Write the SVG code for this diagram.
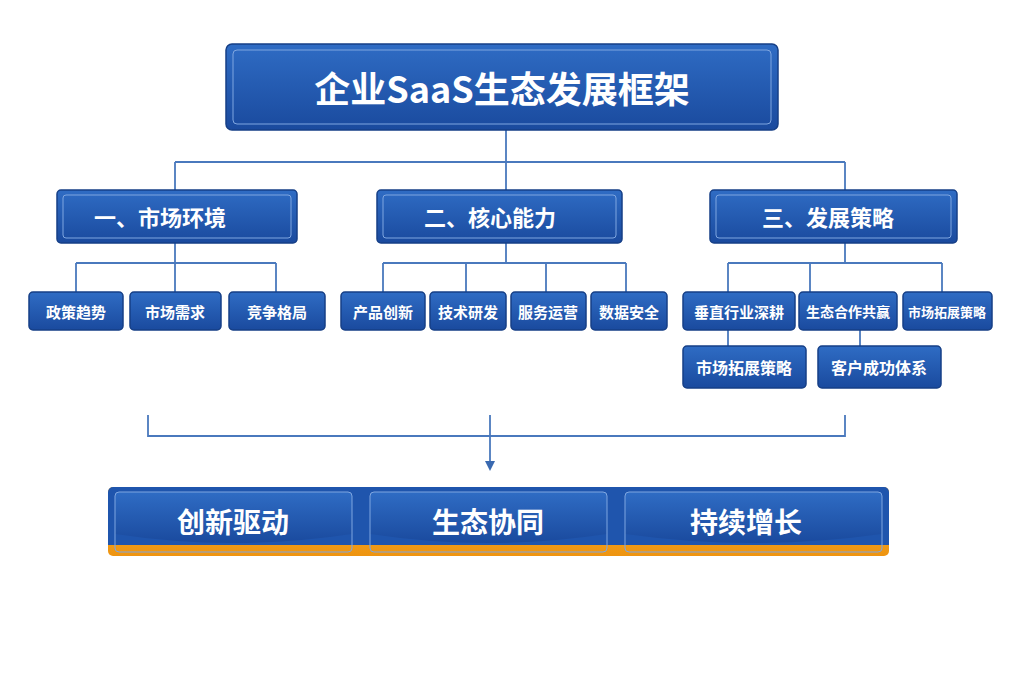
<svg xmlns="http://www.w3.org/2000/svg" width="1024" height="683" viewBox="0 0 1024 683">
<defs>
<linearGradient id="bg" x1="0" y1="0" x2="0" y2="1"><stop offset="0" stop-color="#2f6cc4"/><stop offset="1" stop-color="#1a4a9e"/></linearGradient>
<linearGradient id="og" x1="0" y1="0" x2="0" y2="1"><stop offset="0" stop-color="#f7b232"/><stop offset="1" stop-color="#ee9410"/></linearGradient>
<marker id="ar" markerWidth="10" markerHeight="10" refX="5" refY="5" orient="auto" markerUnits="userSpaceOnUse"><path d="M0,0 L10,5 L0,10 z" fill="#3a69b0"/></marker>
</defs>
<style>
.b{fill:url(#bg);stroke:#163f86;stroke-width:1.5}
.in{fill:none;stroke:#7fa6e0;stroke-width:1}
.t{font-family:"Noto Sans CJK SC","Liberation Sans",sans-serif;fill:#fff;font-weight:bold;text-anchor:middle;dominant-baseline:central}
.c{stroke:#4a79bd;stroke-width:1.8;fill:none}
</style>
<rect width="1024" height="683" fill="#fff"/>
<g id="connectors">
<path class="c" d="M506,130V162M175,162H845M175,162V190M506,162V190M845,162V190"/>
<path class="c" d="M175,243V263M76,263H276M76,263V292M175,263V292M276,263V292"/>
<path class="c" d="M506,243V263M383,263H626M383,263V292M466,263V292M546,263V292M626,263V292"/>
<path class="c" d="M845,243V263M728,263H942M728,263V292M810,263V292M942,263V292M728,330V346M860,330V346"/>
<path class="c" d="M148,415V436H845V415"/>
<path class="c" d="M490,415V466" marker-end="url(#ar)"/>
</g>
<g id="title"><rect class="b" x="226" y="44" width="552" height="86" rx="6"/><rect class="in" x="233" y="50" width="538" height="74" rx="4"/><text class="t" x="502" y="87" font-size="36">企业SaaS生态发展框架</text></g>
<g id="s1"><rect class="b" x="57" y="190" width="240" height="53" rx="4"/><rect class="in" x="63" y="195" width="228" height="43" rx="3"/><text class="t" x="160" y="216" font-size="22">一、市场环境</text></g>
<g id="s2"><rect class="b" x="377" y="190" width="245" height="53" rx="4"/><rect class="in" x="383" y="195" width="233" height="43" rx="3"/><text class="t" x="490" y="216" font-size="22">二、核心能力</text></g>
<g id="s3"><rect class="b" x="710" y="190" width="247" height="53" rx="4"/><rect class="in" x="716" y="195" width="235" height="43" rx="3"/><text class="t" x="828" y="216" font-size="22">三、发展策略</text></g>
<g id="n1"><rect class="b" x="29" y="292" width="94" height="38" rx="4"/><text class="t" x="76" y="311" font-size="15">政策趋势</text></g>
<g id="n2"><rect class="b" x="130" y="292" width="91" height="38" rx="4"/><text class="t" x="175" y="311" font-size="15">市场需求</text></g>
<g id="n3"><rect class="b" x="229" y="292" width="96" height="38" rx="4"/><text class="t" x="277" y="311" font-size="15">竞争格局</text></g>
<g id="n4"><rect class="b" x="341" y="292" width="84" height="38" rx="4"/><text class="t" x="383" y="311" font-size="15">产品创新</text></g>
<g id="n5"><rect class="b" x="430" y="292" width="76" height="38" rx="4"/><text class="t" x="468" y="311" font-size="15">技术研发</text></g>
<g id="n6"><rect class="b" x="511" y="292" width="75" height="38" rx="4"/><text class="t" x="548" y="311" font-size="15">服务运营</text></g>
<g id="n7"><rect class="b" x="591" y="292" width="76" height="38" rx="4"/><text class="t" x="629" y="311" font-size="15">数据安全</text></g>
<g id="n8"><rect class="b" x="683" y="292" width="112" height="38" rx="4"/><text class="t" x="739" y="311" font-size="15">垂直行业深耕</text></g>
<g id="n9"><rect class="b" x="799" y="292" width="98" height="38" rx="4"/><text class="t" x="848" y="311" font-size="14">生态合作共赢</text></g>
<g id="n10"><rect class="b" x="903" y="292" width="89" height="38" rx="4"/><text class="t" x="947" y="311" font-size="13">市场拓展策略</text></g>
<g id="n11"><rect class="b" x="683" y="346" width="123" height="42" rx="4"/><text class="t" x="744" y="367" font-size="16">市场拓展策略</text></g>
<g id="n12"><rect class="b" x="818" y="346" width="123" height="42" rx="4"/><text class="t" x="879" y="367" font-size="16">客户成功体系</text></g>
<g id="bottom">
<rect x="108" y="487" width="781" height="69" rx="5" fill="url(#og)"/>
<path d="M108,492 a5,5 0 0 1 5,-5 H884 a5,5 0 0 1 5,5 V545 H108 z" fill="#1f55ad"/>
<g id="p1"><path d="M115,496 a4,4 0 0 1 4,-4 H348 a4,4 0 0 1 4,4 V534 Q233,552 115,534 z" fill="url(#bg)"/><rect class="in" x="115" y="492" width="237" height="60" rx="4" stroke="#ffd27a"/><text class="t" x="233" y="521" font-size="28">创新驱动</text></g>
<g id="p2"><path d="M370,496 a4,4 0 0 1 4,-4 H603 a4,4 0 0 1 4,4 V534 Q488,552 370,534 z" fill="url(#bg)"/><rect class="in" x="370" y="492" width="237" height="60" rx="4" stroke="#ffd27a"/><text class="t" x="488" y="521" font-size="28">生态协同</text></g>
<g id="p3"><path d="M625,496 a4,4 0 0 1 4,-4 H878 a4,4 0 0 1 4,4 V534 Q753,552 625,534 z" fill="url(#bg)"/><rect class="in" x="625" y="492" width="257" height="60" rx="4" stroke="#ffd27a"/><text class="t" x="746" y="521" font-size="28">持续增长</text></g>
</g>
</svg>
